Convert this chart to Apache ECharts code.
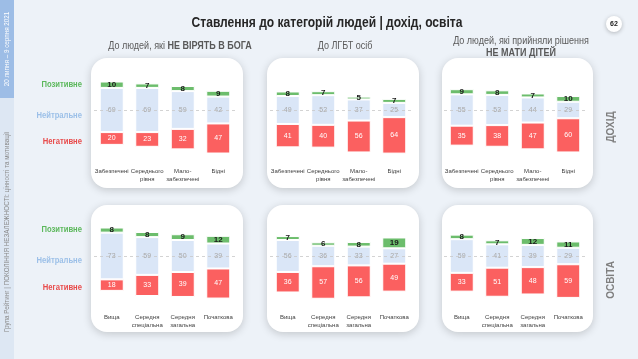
<!DOCTYPE html>
<html><head><meta charset="utf-8">
<script src="https://cdn.jsdelivr.net/npm/echarts@6/dist/echarts.min.js"></script>
<style>html,body{margin:0;padding:0;background:#edf2f8}#c{width:638px;height:359px}</style>
</head><body><div id="c"></div>
<script>
// ---- data ----
const catIncome = ['Забезпечені', 'Середнього\nрівня', 'Мало-\nзабезпечені', 'Бідні'];
const catEdu = ['Вища', 'Середня\nспеціальна', 'Середня\nзагальна', 'Початкова'];

const atheistIncomePos = [10, 7, 8, 9];
const atheistIncomeNeu = [69, 69, 59, 42];
const atheistIncomeNeg = [20, 23, 32, 47];

const lgbtIncomePos = [8, 7, 5, 7];
const lgbtIncomeNeu = [49, 52, 37, 25];
const lgbtIncomeNeg = [41, 40, 56, 64];

const childfreeIncomePos = [9, 8, 7, 10];
const childfreeIncomeNeu = [55, 53, 44, 29];
const childfreeIncomeNeg = [35, 38, 47, 60];

const atheistEduPos = [8, 8, 9, 12];
const atheistEduNeu = [73, 59, 50, 39];
const atheistEduNeg = [18, 33, 39, 47];

const lgbtEduPos = [7, 6, 8, 19];
const lgbtEduNeu = [56, 36, 33, 27];
const lgbtEduNeg = [36, 57, 56, 49];

const childfreeEduPos = [8, 7, 12, 11];
const childfreeEduNeu = [59, 41, 39, 29];
const childfreeEduNeg = [33, 51, 48, 59];

const title = 'Ставлення до категорій людей | дохід, освіта';
const rowLabels = ['Позитивне', 'Нейтральне', 'Негативне'];

// ---- layout ----
const FONT = "'Liberation Sans',Arial,sans-serif";
const C_POS = '#6cbd6c', C_NEU = '#dae6f7', C_NEG = '#fb6060';
const panelsData = [
  {pos: atheistIncomePos, neu: atheistIncomeNeu, neg: atheistIncomeNeg, cats: catIncome},
  {pos: lgbtIncomePos, neu: lgbtIncomeNeu, neg: lgbtIncomeNeg, cats: catIncome},
  {pos: childfreeIncomePos, neu: childfreeIncomeNeu, neg: childfreeIncomeNeg, cats: catIncome},
  {pos: atheistEduPos, neu: atheistEduNeu, neg: atheistEduNeg, cats: catEdu},
  {pos: lgbtEduPos, neu: lgbtEduNeu, neg: lgbtEduNeg, cats: catEdu},
  {pos: childfreeEduPos, neu: childfreeEduNeu, neg: childfreeEduNeg, cats: catEdu}
];
const colLeft = [94, 270, 444];
const colScale = [0.64, 0.57, 0.57];
const rowCenter = [110, 256];
const rowBottom = [161, 307];
const GW = 142, GH = 110;

const grids = [], xAxes = [], yAxes = [], series = [];
panelsData.forEach((p, i) => {
  const col = i % 3, row = Math.floor(i / 3);
  const s = colScale[col];
  const yb = rowBottom[row], cy = rowCenter[row];
  const K = (yb - cy) / s;
  grids.push({left: colLeft[col], width: GW, top: yb - GH, height: GH});
  xAxes.push({type: 'category', gridIndex: i, data: p.cats,
    axisLine: {show: false}, axisTick: {show: false}, splitLine: {show: false},
    axisLabel: {interval: 0, fontSize: 6, lineHeight: 8, color: '#404040', margin: 6, fontFamily: FONT}});
  yAxes.push({type: 'value', gridIndex: i, min: 0, max: GH / s, show: false});
  const base = p.neg.map((v, j) => K - v - p.neu[j] / 2);
  const common = {type: 'bar', xAxisIndex: i, yAxisIndex: i, stack: 's' + i, barWidth: 24, z: 3};
  series.push({...common, name: 'base', data: base, z: 1, itemStyle: {color: 'transparent'},
    silent: true,
    markLine: {silent: true, symbol: 'none', label: {show: false},
      lineStyle: {type: [3, 3], color: '#c8c8c8', width: 0.8}, data: [{yAxis: K}]}});
  series.push({...common, name: 'Негативне', data: p.neg,
    itemStyle: {color: C_NEG, borderColor: '#fff', borderWidth: 1},
    label: {show: true, position: 'inside', color: '#fff', fontSize: 7, fontFamily: FONT}});
  series.push({...common, name: 'Нейтральне', data: p.neu,
    itemStyle: {color: C_NEU, borderColor: '#fff', borderWidth: 1},
    label: {show: true, position: 'inside', color: '#a8a8a8', fontSize: 7, fontFamily: FONT}});
  series.push({...common, name: 'Позитивне', data: p.pos,
    itemStyle: {color: C_POS, borderColor: '#fff', borderWidth: 1},
    label: {show: true, position: 'inside', color: '#1a1a1a', fontSize: 8, fontWeight: 'bold', fontFamily: FONT}});
});

// ---- decorations ----
const graphic = [];
graphic.push({type: 'rect', shape: {x: 0, y: 0, width: 14, height: 359}, style: {fill: '#dde7f3'}, z: -10});
graphic.push({type: 'rect', shape: {x: 0, y: 0, width: 14, height: 98}, style: {fill: '#9dbde6'}, z: -9});
graphic.push({type: 'text', x: 7, y: 49, rotation: Math.PI / 2, scaleX: 0.9,
  style: {text: '20 липня – 9 серпня 2021', fill: '#fff', fontSize: 7, align: 'center', verticalAlign: 'middle', fontFamily: FONT}});
graphic.push({type: 'text', x: 7, y: 232, rotation: Math.PI / 2, scaleX: 0.9,
  style: {text: 'Група Рейтинг | ПОКОЛІННЯ НЕЗАЛЕЖНОСТІ: цінності та мотивації', fill: '#8a8a8a', fontSize: 7, align: 'center', verticalAlign: 'middle', fontFamily: FONT}});
// panels
const panelX = [91, 267, 442], panelW = [152, 152, 151];
const panelY = [58, 205], panelH = [130, 127];
for (let r = 0; r < 2; r++) for (let c = 0; c < 3; c++) {
  graphic.push({type: 'rect', shape: {x: panelX[c], y: panelY[r], width: panelW[c], height: panelH[r], r: 16},
    style: {fill: '#fff', shadowBlur: 8, shadowColor: 'rgba(0,0,0,0.18)', shadowOffsetY: 2}, z: -5});
}
graphic.push({type: 'text', x: 327, y: 23, scaleX: 0.86,
  style: {text: title, fill: '#262626', fontSize: 14, fontWeight: 'bold', align: 'center', verticalAlign: 'middle', fontFamily: FONT}});
graphic.push({type: 'circle', shape: {cx: 614, cy: 24, r: 8}, style: {fill: '#fff', shadowBlur: 4, shadowColor: 'rgba(0,0,0,0.25)', shadowOffsetY: 1}});
graphic.push({type: 'text', x: 614, y: 24,
  style: {text: '62', fill: '#222', fontSize: 7, fontWeight: 'bold', align: 'center', verticalAlign: 'middle', fontFamily: FONT}});
graphic.push({type: 'text', x: 180, y: 46, scaleX: 0.9,
  style: {text: 'До людей, які {b|НЕ ВІРЯТЬ В БОГА}', fill: '#595959', fontSize: 10, align: 'center', verticalAlign: 'middle', fontFamily: FONT,
    rich: {b: {fontSize: 10, fontWeight: 'bold', fill: '#595959', fontFamily: FONT}}}});
graphic.push({type: 'text', x: 345, y: 46, scaleX: 0.9,
  style: {text: 'До ЛГБТ осіб', fill: '#595959', fontSize: 10, align: 'center', verticalAlign: 'middle', fontFamily: FONT}});
graphic.push({type: 'text', x: 521, y: 41, scaleX: 0.9,
  style: {text: 'До людей, які прийняли рішення', fill: '#595959', fontSize: 10, align: 'center', verticalAlign: 'middle', fontFamily: FONT}});
graphic.push({type: 'text', x: 521, y: 53, scaleX: 0.9,
  style: {text: 'НЕ МАТИ ДІТЕЙ', fill: '#595959', fontSize: 10, fontWeight: 'bold', align: 'center', verticalAlign: 'middle', fontFamily: FONT}});
const rowLabelY = [[85, 116, 142], [230, 261, 288]];
const rowLabelColor = ['#5cb85c', '#9cc0e8', '#e84c4c'];
rowLabelY.forEach(ys => ys.forEach((y, k) => {
  graphic.push({type: 'text', x: 82, y: y, scaleX: 0.85, originX: 0,
    style: {text: rowLabels[k], fill: rowLabelColor[k], fontSize: 9, fontWeight: 'bold', align: 'right', verticalAlign: 'middle', fontFamily: FONT}});
}));
graphic.push({type: 'text', x: 611, y: 127, rotation: Math.PI / 2,
  style: {text: 'ДОХІД', fill: '#7f7f7f', fontSize: 10, fontWeight: 'bold', align: 'center', verticalAlign: 'middle', fontFamily: FONT}});
graphic.push({type: 'text', x: 611, y: 280, rotation: Math.PI / 2,
  style: {text: 'ОСВІТА', fill: '#7f7f7f', fontSize: 10, fontWeight: 'bold', align: 'center', verticalAlign: 'middle', fontFamily: FONT}});

const chart = echarts.init(document.getElementById('c'), null, {renderer: 'canvas'});
chart.setOption({
  backgroundColor: '#edf2f8',
  animation: false,
  grid: grids, xAxis: xAxes, yAxis: yAxes, series: series,
  graphic: graphic
});
</script></body></html>
